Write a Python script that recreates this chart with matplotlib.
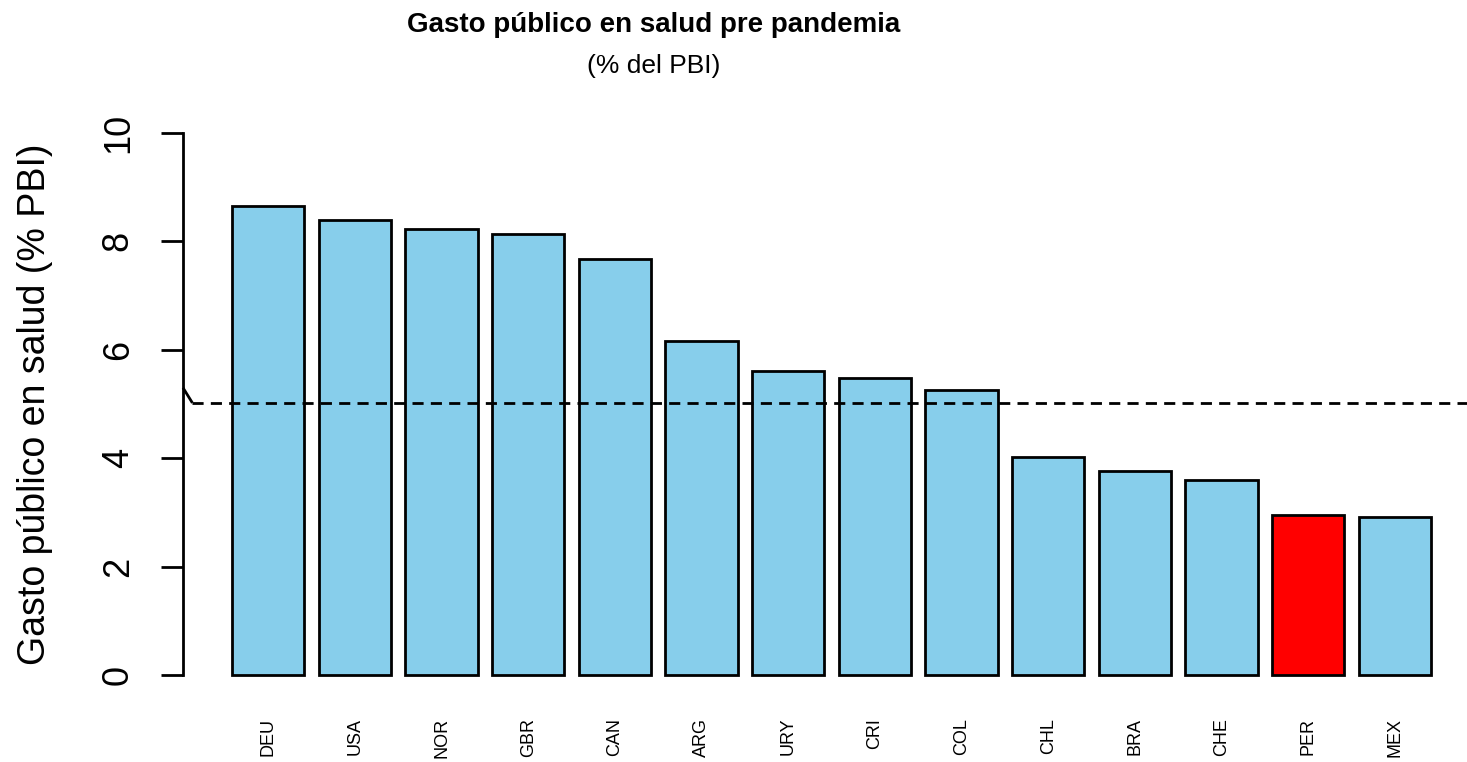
import matplotlib
matplotlib.use("Agg")
import matplotlib.pyplot as plt
import numpy as np

plt.rcParams['font.family'] = ['Liberation Sans', 'DejaVu Sans']

countries = ['DEU', 'USA', 'NOR', 'GBR', 'CAN', 'ARG', 'URY', 'CRI', 'COL',
             'CHL', 'BRA', 'CHE', 'PER', 'MEX']
gasto = [8.65, 8.39, 8.23, 8.14, 7.68, 6.16, 5.61, 5.48, 5.26,
         4.02, 3.76, 3.60, 2.95, 2.92]
highlight = 'PER'
promedio = 5.02
y_ticks = [0, 2, 4, 6, 8, 10]

colors = ['red' if c == highlight else 'skyblue' for c in countries]

# R barplot style positions: width 1, space 0.2
pos = 0.7 + 1.2 * np.arange(len(countries))

fig = plt.figure(figsize=(14.67, 7.62), dpi=100)
ax = fig.add_axes([183 / 1467, 1 - 697 / 762, 1 - 183 / 1467, (697 - 111) / 762])

lw = 2.0
ax.bar(pos, gasto, width=1, color=colors, edgecolor='black', linewidth=lw)

xmin, xmax = -0.48, 17.30
ax.set_xlim(xmin, xmax)
ax.set_ylim(-0.4, 10.4)

# reference line (with the small stroke where it starts at the axis)
ax.plot([xmin, xmin + 0.13], [promedio + 0.28, promedio], color='black', lw=lw,
        solid_capstyle='butt', clip_on=False)
ax.plot([xmin + 0.13, xmax], [promedio, promedio], color='black', lw=lw,
        dashes=(4, 2.6))

for s in ['top', 'right', 'bottom']:
    ax.spines[s].set_visible(False)
ax.spines['left'].set_bounds(0, 10)
ax.spines['left'].set_linewidth(lw)

ax.set_yticks(y_ticks)
ax.set_yticklabels([str(v) for v in y_ticks], rotation=90, va='center', fontsize=26)
ax.tick_params(axis='y', length=16, width=lw, pad=18)

ax.set_xticks(pos)
ax.set_xticklabels(countries, rotation=90, fontsize=13, va='top')
ax.tick_params(axis='x', length=0, pad=15)

ax.set_ylabel('Gasto público en salud (% PBI)', fontsize=27)
ax.yaxis.set_label_coords(-0.101, 0.5)

fig.text(654 / 1467, 1 - 25 / 762, 'Gasto público en salud pre pandemia',
         ha='center', va='center', fontsize=20, fontweight='bold')
fig.text(654 / 1467, 1 - 66 / 762, '(% del PBI)', ha='center', va='center', fontsize=19)

fig.savefig('out.png', dpi=100)
